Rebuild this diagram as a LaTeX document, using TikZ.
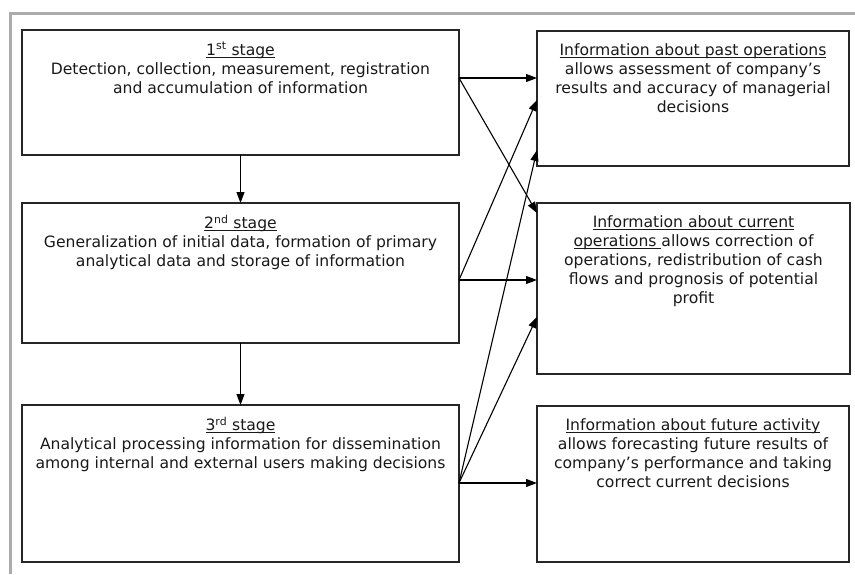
\documentclass[tikz,border=0pt]{standalone}
\usepackage{fontspec}
\setmainfont{DejaVu Sans}
\usetikzlibrary{arrows.meta,calc}
\newlength\myulw
\newcommand\myul[1]{\settowidth\myulw{#1}\rlap{\rule[-2.4pt]{\myulw}{0.8pt}}#1}
\begin{document}
\begin{tikzpicture}[x=1pt,y=-1pt,
  box/.style={draw=black!85,line width=1.3pt,inner sep=0pt,outer sep=0pt,fill=white},
  txt/.style={anchor=north,align=center,inner sep=0pt,font=\fontsize{15.6}{19}\selectfont,text=black!90},
  arr/.style={line width=1.1pt,-{Triangle[length=11pt,width=8pt]}}]
\useasboundingbox (0,0) rectangle (855,574);
\draw[line width=3pt,black!33] (10,574) -- (10,13) -- (855,13);
% left boxes
\node[box,minimum width=437pt,minimum height=125pt] (s1) at (240.5,92.5) {};
\node[box,minimum width=437pt,minimum height=140pt] (s2) at (240.5,273) {};
\node[box,minimum width=437pt,minimum height=157pt] (s3) at (240.5,483.5) {};
% right boxes
\node[box,minimum width=312pt,minimum height=135pt] (ra) at (693,98.5) {};
\node[box,minimum width=313pt,minimum height=171pt] (rb) at (693.5,288.5) {};
\node[box,minimum width=312pt,minimum height=156pt] (rc) at (693,484) {};
% texts
\node[txt] (t1) at ($(s1.north)+(0,12)$) {\myul{1\textsuperscript{st} stage}\\Detection, collection, measurement, registration\\and accumulation of information};
\node[txt] (t2) at ($(s2.north)+(0,12)$) {\myul{2\textsuperscript{nd} stage}\\Generalization of initial data, formation of primary\\analytical data and storage of information};
\node[txt] (t3) at ($(s3.north)+(0,12)$) {\myul{3\textsuperscript{rd} stage}\\Analytical processing information for dissemination\\among internal and external users making decisions};
\node[txt] (ta) at ($(ra.north)+(0,12)$) {\myul{Information about past operations}\\allows assessment of company’s\\results and accuracy of managerial\\decisions};
\node[txt] (tb) at ($(rb.north)+(0,12)$) {\myul{Information about current}\\\myul{operations\ }allows correction of\\operations, redistribution of cash\\flows and prognosis of potential\\profit};
\node[txt] (tc) at ($(rc.north)+(0,12)$) {\myul{Information about future activity}\\allows forecasting future results of\\company’s performance and taking\\correct current decisions};
% source and target points
\coordinate (o1) at (s1.east |- 0,78);
\coordinate (o2) at (s2.east |- 0,280);
\coordinate (o3) at (s3.east |- 0,483);
\coordinate (a1) at (ra.west |- 0,78);
\coordinate (a2) at (ra.west |- 0,100);
\coordinate (a3) at (ra.west |- 0,150);
\coordinate (b1) at (rb.west |- 0,213);
\coordinate (b2) at (rb.west |- 0,280);
\coordinate (b3) at (rb.west |- 0,317);
\coordinate (c3) at (rc.west |- 0,483);
% vertical arrows
\draw[arr] (s1.south) -- (s2.north);
\draw[arr] (s2.south) -- (s3.north);
% right arrows
\draw[arr] (o1) -- (a1);
\draw[arr] (o1) -- (b1);
\draw[arr] (o2) -- (a2);
\draw[arr] (o2) -- (b2);
\draw[arr] (o3) -- (a3);
\draw[arr] (o3) -- (b3);
\draw[arr] (o3) -- (c3);
\end{tikzpicture}
\end{document}
